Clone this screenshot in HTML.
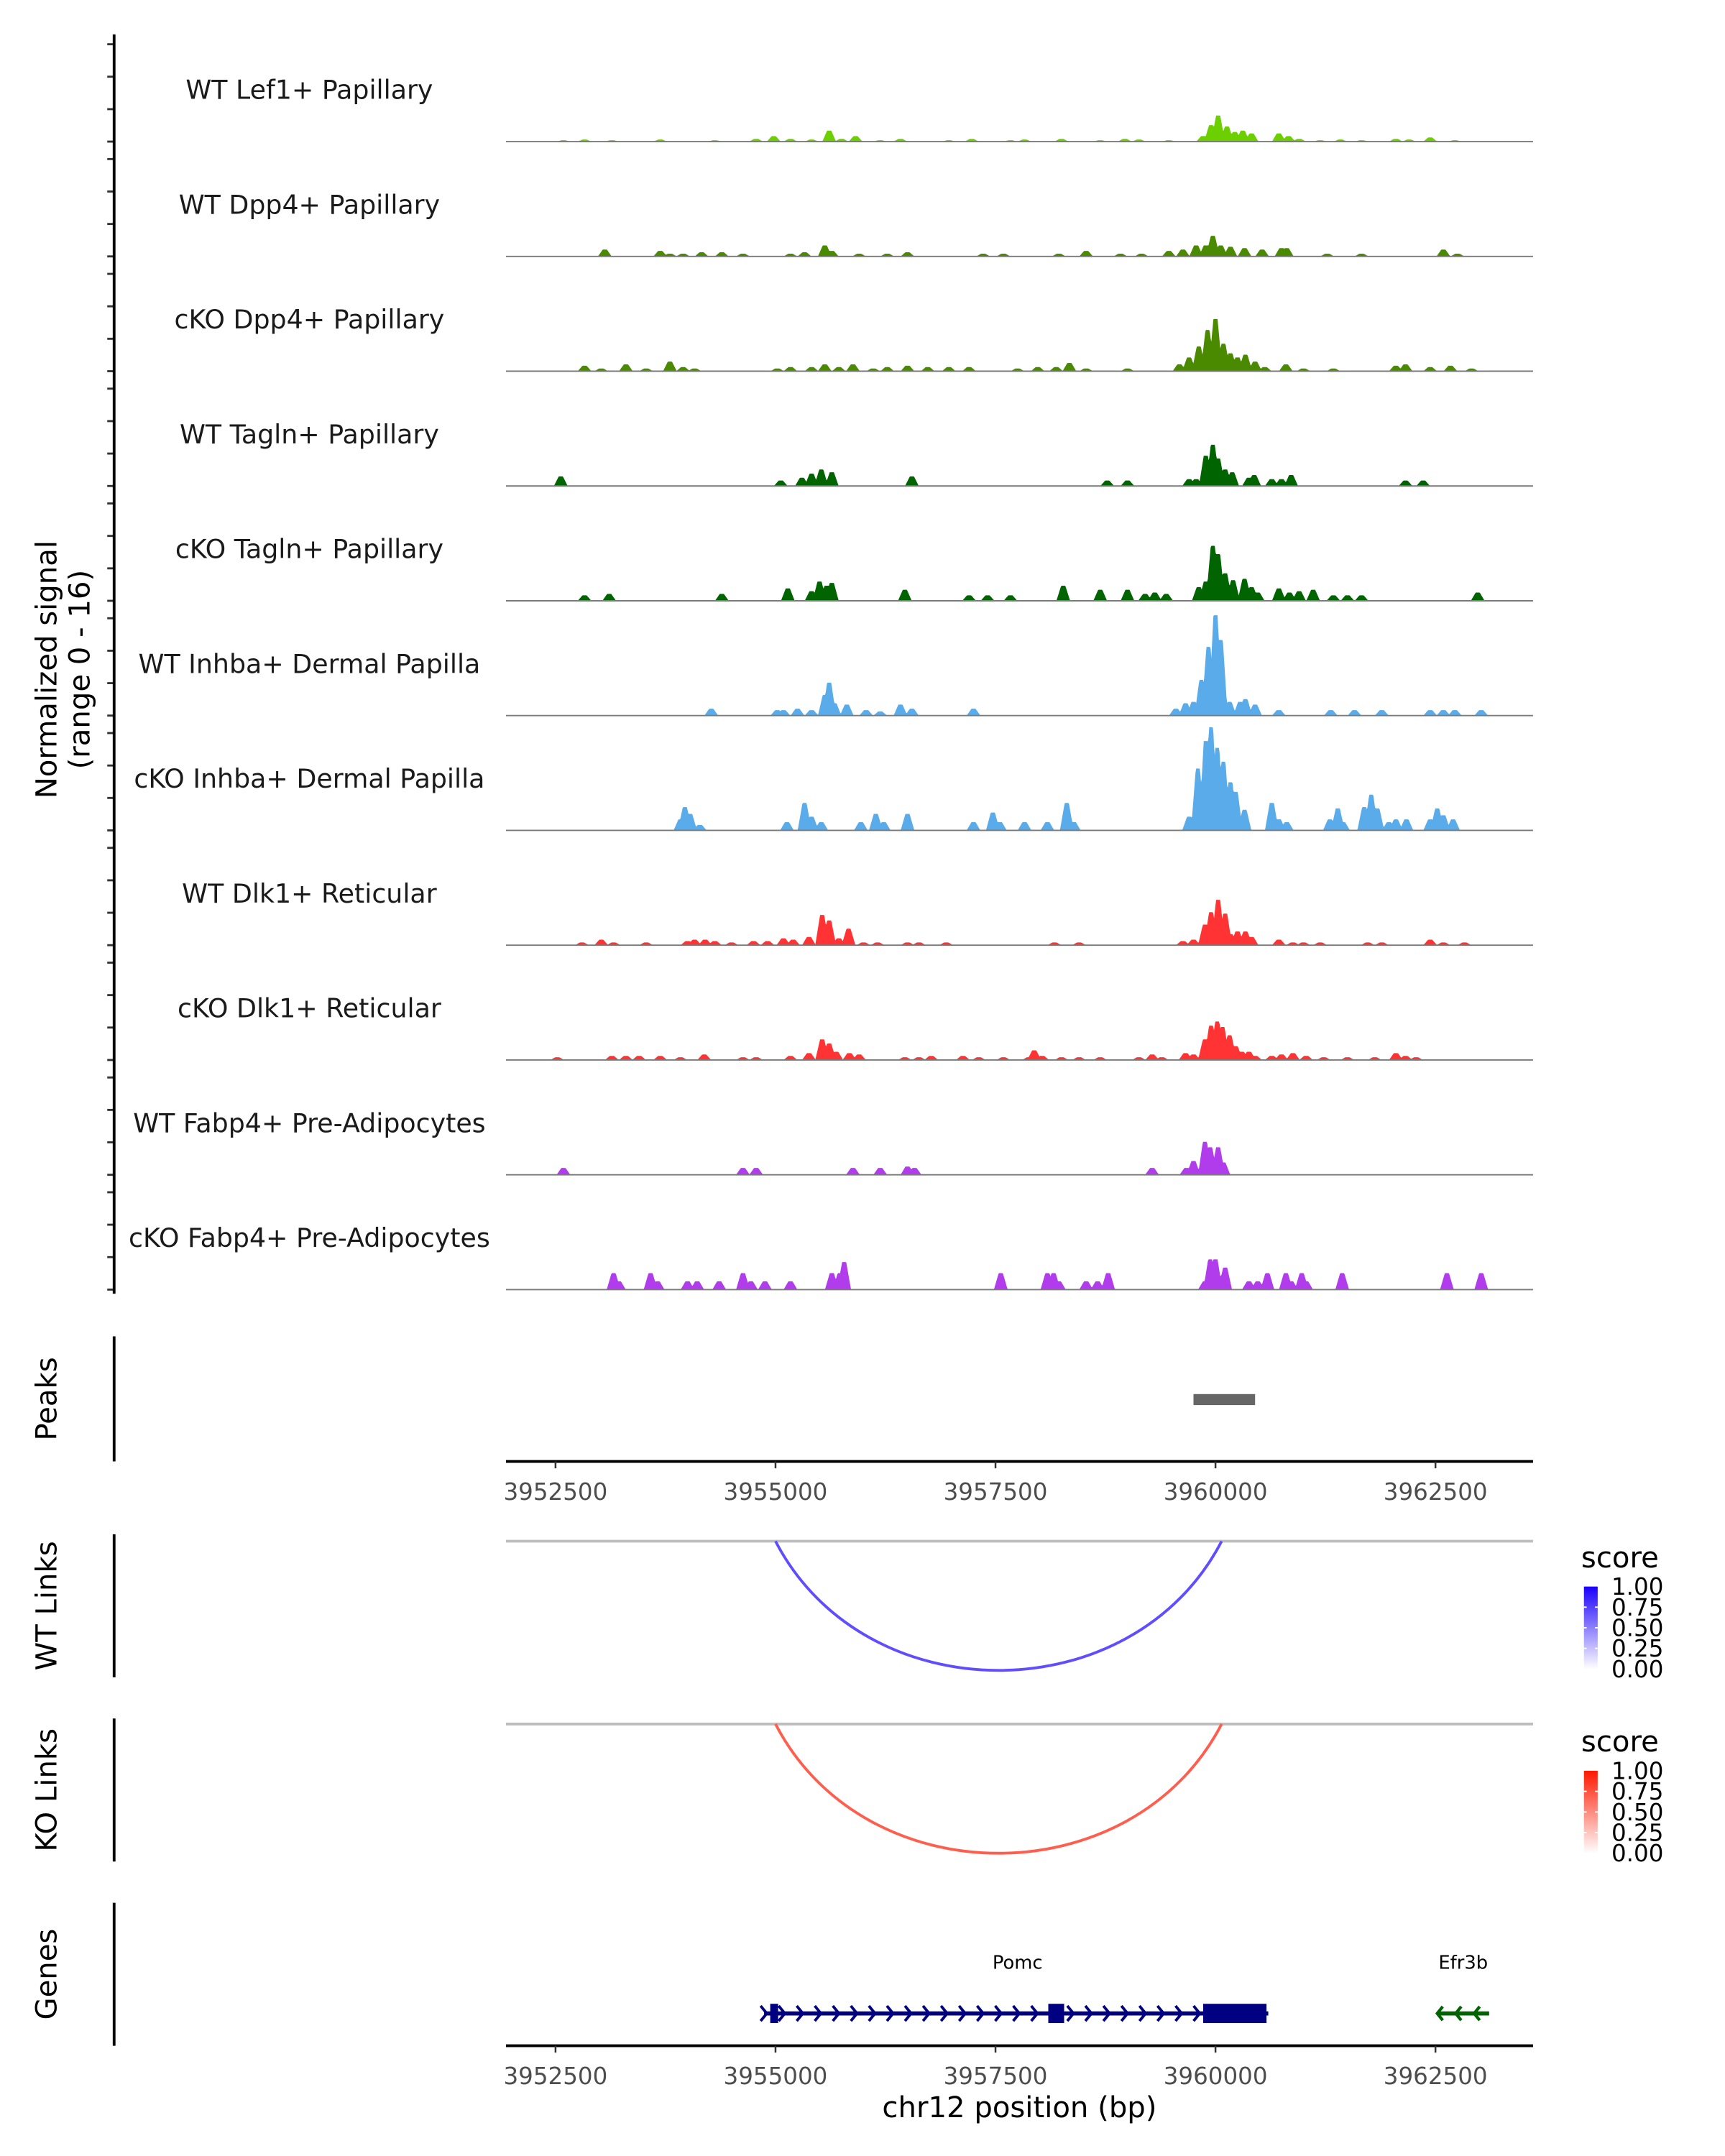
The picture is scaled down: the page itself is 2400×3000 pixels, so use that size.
<!DOCTYPE html>
<html><head><meta charset="utf-8"><title>Pomc locus coverage</title>
<style>html,body{margin:0;padding:0;background:#fff}svg{display:block}text{font-family:"DejaVu Sans","Liberation Sans",sans-serif}</style>
</head><body>
<svg id="chart" xmlns="http://www.w3.org/2000/svg" width="2400" height="3000" viewBox="0 0 1254.6 1568.2" preserveAspectRatio="none">
<g id="tracks"></g>
<g id="frame"></g>
</svg>
<script>
// ---- data ----
const regionStart = 3951937, regionEnd = 3963609;
const axisTicks = [3952500, 3955000, 3957500, 3960000, 3962500];
const trackNames = ["WT Lef1+ Papillary","WT Dpp4+ Papillary","cKO Dpp4+ Papillary","WT Tagln+ Papillary","cKO Tagln+ Papillary","WT Inhba+ Dermal Papilla","cKO Inhba+ Dermal Papilla","WT Dlk1+ Reticular","cKO Dlk1+ Reticular","WT Fabp4+ Pre-Adipocytes","cKO Fabp4+ Pre-Adipocytes"];
const trackColors = ["#6ccf00","#4a8a00","#4a8a00","#006400","#006400","#5aabea","#5aabea","#ff3333","#ff3333","#b03ceb","#b03ceb"];
const sigMax = 16.7;
// [position (kb), signal]
const lef1WT = [[3952.59,.2],[3952.83,.3],[3953.14,.2],[3953.69,.3],[3954.31,.2],[3954.78,.4],[3954.98,.8],[3955.17,.4],[3955.41,.3],[3955.61,1.6],[3955.75,.4],[3955.91,.8],[3956.19,.2],[3956.42,.4],[3956.97,.2],[3957.23,.4],[3957.67,.2],[3957.83,.3],[3958.25,.4],[3958.69,.2],[3958.97,.4],[3959.13,.3],[3959.47,.2],[3959.86,.8],[3959.95,2.4],[3960.03,3.8],[3960.13,2.2],[3960.22,1.4],[3960.31,1.6],[3960.41,1.2],[3960.72,1.2],[3960.83,.8],[3960.95,.4],[3961.19,.2],[3961.42,.3],[3961.66,.2],[3962.05,.4],[3962.2,.3],[3962.44,.6],[3962.72,.2]];
const dpp4WT = [[3953.06,1],[3953.69,.8],[3953.8,.4],[3953.95,.4],[3954.16,.6],[3954.39,.6],[3954.63,.4],[3955.17,.4],[3955.33,.6],[3955.56,1.6],[3955.64,.8],[3955.95,.4],[3956.27,.4],[3956.5,.6],[3957.36,.4],[3957.59,.4],[3958.22,.4],[3958.53,.8],[3958.92,.4],[3959.16,.4],[3959.47,.8],[3959.63,1],[3959.78,1.6],[3959.89,1.6],[3959.97,3],[3960.06,1.6],[3960.17,1.4],[3960.33,1.2],[3960.53,1],[3960.75,1.2],[3960.81,1.2],[3961.27,.4],[3961.66,.4],[3962.59,1],[3962.75,.4]];
const dpp4KO = [[3952.83,.8],[3953.02,.4],[3953.3,1],[3953.53,.4],[3953.8,1.4],[3953.95,.6],[3954.08,.4],[3955.02,.4],[3955.17,.6],[3955.41,.6],[3955.56,1],[3955.72,.6],[3955.88,1],[3956.11,.4],[3956.27,.6],[3956.5,.8],[3956.73,.6],[3956.97,.6],[3957.2,.6],[3957.75,.4],[3957.98,.6],[3958.19,.6],[3958.34,1.2],[3958.53,.4],[3959.0,.4],[3959.59,1],[3959.7,2],[3959.81,3.6],[3959.91,6],[3960.0,7.6],[3960.09,4],[3960.17,2.6],[3960.25,2],[3960.34,2.4],[3960.45,1.4],[3960.56,.6],[3960.8,1],[3961.0,.4],[3961.34,.4],[3962.05,.8],[3962.16,1],[3962.44,.6],[3962.67,.8],[3962.91,.4]];
const taglnWT = [[3952.56,1.4],[3955.06,.8],[3955.3,1.2],[3955.41,1.8],[3955.52,2.4],[3955.64,2],[3956.55,1.4],[3958.77,.8],[3959.0,.8],[3959.7,1],[3959.78,1],[3959.89,4.4],[3959.97,6],[3960.03,4],[3960.11,2.4],[3960.19,2],[3960.38,1.2],[3960.44,1.6],[3960.64,1],[3960.75,1],[3960.86,1.6],[3962.16,.8],[3962.36,.8]];
const taglnKO = [[3952.83,.8],[3953.11,1],[3954.39,1],[3955.14,1.8],[3955.41,1.4],[3955.5,2.8],[3955.58,2.2],[3955.64,2.6],[3956.47,1.6],[3957.2,.8],[3957.41,.8],[3957.67,.8],[3958.27,2.2],[3958.69,1.6],[3959.0,1.6],[3959.2,1],[3959.31,1.2],[3959.44,1],[3959.81,2],[3959.89,2.8],[3959.97,8],[3960.03,6.8],[3960.11,4],[3960.2,3],[3960.33,3.2],[3960.41,2],[3960.48,1.2],[3960.72,1.8],[3960.84,1.2],[3960.95,1.4],[3961.11,1.6],[3961.34,.8],[3961.5,.8],[3961.66,.8],[3962.98,1.2]];
const inhbaWT = [[3954.27,1],[3955.02,.8],[3955.09,.8],[3955.25,1],[3955.41,.8],[3955.56,3],[3955.61,4.8],[3955.67,1.8],[3955.81,1.6],[3956.03,.8],[3956.19,.6],[3956.42,1.6],[3956.55,1],[3957.25,1],[3959.55,1],[3959.66,1.8],[3959.75,2],[3959.84,5.2],[3959.92,10],[3960.0,14.6],[3960.06,11],[3960.16,2],[3960.28,2],[3960.34,2.4],[3960.45,1.6],[3960.72,.8],[3961.31,.8],[3961.58,.8],[3961.89,.8],[3962.44,.8],[3962.59,.8],[3962.72,.8],[3963.02,.8]];
const inhbaKO = [[3953.92,1.6],[3953.97,3.4],[3954.03,2.4],[3954.14,.8],[3955.13,1.2],[3955.33,4],[3955.41,2],[3955.52,1.2],[3955.97,1.2],[3956.14,2.4],[3956.23,1.2],[3956.5,2.4],[3957.25,1.2],[3957.47,2.6],[3957.55,1.2],[3957.83,1.2],[3958.09,1.2],[3958.31,4],[3958.39,1.2],[3959.7,2],[3959.8,9],[3959.89,13],[3959.95,15],[3960.02,12],[3960.09,10],[3960.17,7],[3960.23,5.6],[3960.33,3],[3960.64,4],[3960.72,1.6],[3960.81,1.2],[3961.3,1.6],[3961.39,3.2],[3961.45,1.2],[3961.69,3.4],[3961.77,5.2],[3961.84,3.2],[3961.97,1.2],[3962.05,1.6],[3962.17,1.6],[3962.44,1.6],[3962.52,3.2],[3962.59,2.2],[3962.7,1.6]];
const dlk1WT = [[3952.8,.4],[3953.02,.8],[3953.16,.4],[3953.53,.4],[3954.0,.6],[3954.08,.8],[3954.2,.8],[3954.31,.6],[3954.5,.4],[3954.75,.6],[3954.91,.6],[3955.09,1],[3955.2,.8],[3955.38,1.2],[3955.53,4.4],[3955.61,3.6],[3955.72,1],[3955.83,2.4],[3956.0,.4],[3956.16,.4],[3956.5,.4],[3956.63,.4],[3956.94,.4],[3958.17,.4],[3958.45,.4],[3959.63,.6],[3959.75,.8],[3959.88,3],[3959.95,4.8],[3960.03,6.6],[3960.11,4.6],[3960.17,1.6],[3960.25,2],[3960.34,2],[3960.41,1.2],[3960.72,.8],[3960.88,.4],[3961.0,.4],[3961.19,.4],[3961.73,.4],[3961.89,.4],[3962.44,.8],[3962.59,.4],[3962.83,.4]];
const dlk1KO = [[3952.52,.4],[3953.14,.6],[3953.3,.6],[3953.45,.6],[3953.69,.6],[3953.92,.4],[3954.19,.8],[3954.63,.4],[3954.78,.4],[3955.17,.6],[3955.38,1],[3955.53,3],[3955.61,2.4],[3955.69,1.2],[3955.84,1],[3955.95,.8],[3956.47,.4],[3956.63,.4],[3956.77,.6],[3957.13,.6],[3957.31,.4],[3957.59,.4],[3957.88,.4],[3957.94,1.4],[3958.03,.6],[3958.25,.4],[3958.45,.4],[3958.69,.4],[3959.13,.4],[3959.28,.8],[3959.39,.4],[3959.66,1],[3959.75,.8],[3959.88,3],[3959.95,5],[3960.02,5.6],[3960.08,4.8],[3960.16,3.6],[3960.23,2],[3960.3,1.2],[3960.38,1.2],[3960.45,.6],[3960.64,.6],[3960.75,.8],[3960.88,1],[3961.03,.6],[3961.23,.4],[3961.5,.4],[3961.81,.4],[3962.05,1],[3962.16,.6],[3962.28,.4]];
const fabp4WT = [[3952.59,1],[3954.63,1],[3954.78,1],[3955.88,1],[3956.19,1],[3956.5,1.2],[3956.58,1],[3959.28,1],[3959.67,1],[3959.75,2],[3959.88,4.8],[3959.94,4],[3960.03,4],[3960.09,1.8]];
const fabp4KO = [[3953.16,2.4],[3953.22,1.2],[3953.58,2.4],[3953.66,1.2],[3954.0,1.2],[3954.11,1.2],[3954.36,1.2],[3954.63,2.4],[3954.72,1.2],[3954.88,1.2],[3955.17,1.2],[3955.64,2.4],[3955.73,2.4],[3955.78,4],[3957.56,2.4],[3958.09,2.4],[3958.16,2.4],[3958.22,1.2],[3958.53,1.2],[3958.66,1.2],[3958.78,2.4],[3959.88,1.2],[3959.94,4.4],[3960.0,4.4],[3960.05,2],[3960.11,3.2],[3960.38,1.2],[3960.48,1.2],[3960.59,2.4],[3960.8,2.4],[3960.86,1.2],[3960.98,2.4],[3961.03,1.2],[3961.44,2.4],[3962.63,2.4],[3963.02,2.4]];
const trackData = [lef1WT,dpp4WT,dpp4KO,taglnWT,taglnKO,inhbaWT,inhbaKO,dlk1WT,dlk1KO,fabp4WT,fabp4KO];
const peakStarts = [3959750]; const peakEnds = [3960450];
const wtLinkStart = [3955000], wtLinkEnd = [3960070], wtLinkScore = [0.7];
const koLinkStart = [3955000], koLinkEnd = [3960070], koLinkScore = [0.7];
const legendTicks = ["1.00","0.75","0.50","0.25","0.00"];
const pomcExonStart = [3954940, 3958100, 3959860];
const pomcExonEnd = [3955030, 3958280, 3960580];
const pomcSpan = [3954870, 3960600];
const efr3bSpan = [3962520, 3963110];

// ---- scales ----
const NS = "http://www.w3.org/2000/svg";
const X0 = 368, X1 = 1115;
const xs = bp => X0 + (bp - regionStart) / (regionEnd - regionStart) * (X1 - X0);
const trackH = 83.5, firstBase = 103;
const ys = (i, v) => firstBase + i * trackH - v / sigMax * trackH;
const tracksG = document.getElementById('tracks');
const frameG = document.getElementById('frame');
function mk(tag, attrs, parent, txt) {
  const e = document.createElementNS(NS, tag);
  for (const k in attrs) e.setAttribute(k, attrs[k]);
  if (txt !== undefined) e.textContent = txt;
  parent.appendChild(e);
  return e;
}

// ---- coverage tracks ----
trackData.forEach((peaks, i) => {
  const base = firstBase + i * trackH;
  const prof = [];
  for (let x = X0; x <= X1; x += 0.5) {
    let v = 0;
    for (const p of peaks) {
      const d = Math.abs(x - xs(p[0] * 1000));
      let f = d <= 1.5 ? 1 : (d >= 5 ? 0 : 1 - (d - 1.5) / 3.5);
      v = Math.max(v, p[1] * f);
    }
    prof.push([x, v]);
  }
  let d = `M${X0},${base}`;
  prof.forEach(([x, v]) => { d += ` L${x.toFixed(1)},${ys(i, v).toFixed(2)}`; });
  d += ` L${X1},${base} Z`;
  const area = mk('path', {d, fill: trackColors[i], stroke: 'none'}, tracksG);
  
  
  const bl = mk('line', {x1: X0, x2: X1, y1: base, y2: base, stroke: '#7a7a7a', 'stroke-width': 1}, tracksG);
  
  
  const lab = mk('text', {x: 225, y: base - 31, 'text-anchor': 'middle', 'font-size': 19, fill: '#1a1a1a'}, tracksG, trackNames[i]);
  
  
  for (let k = 0; k < 4; k++) {
    const ty = base - k * 23.6;
    const t = mk('line', {x1: 78, x2: 83, y1: ty, y2: ty, stroke: '#333', 'stroke-width': 1.5}, frameG);
    
    
  }
});
let e;
e = mk('line', {x1: 83, x2: 83, y1: 25, y2: 941, stroke: '#000', 'stroke-width': 2}, frameG);
 
e = mk('text', {transform: 'translate(41,487) rotate(-90)', 'text-anchor': 'middle', 'font-size': 21, fill: '#000'}, frameG, 'Normalized signal');
 
e = mk('text', {transform: 'translate(65,487) rotate(-90)', 'text-anchor': 'middle', 'font-size': 21, fill: '#000'}, frameG, '(range 0 - 16)');
 

// ---- side labels ----
function sideLabel(txt, y0, y1, name) {
  const l = mk('line', {x1: 83, x2: 83, y1: y0, y2: y1, stroke: '#000', 'stroke-width': 2}, frameG);
  
  
  const t = mk('text', {transform: `translate(41,${(y0 + y1) / 2}) rotate(-90)`, 'text-anchor': 'middle', 'font-size': 21, fill: '#000'}, frameG, txt);
  
  
}
sideLabel('Peaks', 972, 1063, 'peaks');
sideLabel('WT Links', 1116, 1220, 'wt-links');
sideLabel('KO Links', 1250, 1354, 'ko-links');
sideLabel('Genes', 1384, 1488, 'genes');

// ---- peaks ----
peakStarts.forEach((s, i) => {
  const r = mk('rect', {x: xs(s), y: 1014, width: xs(peakEnds[i]) - xs(s), height: 8, fill: '#666'}, frameG);
  
  
});

// ---- x axes ----
function xAxis(y, withTitle) {
  const l = mk('line', {x1: X0, x2: X1, y1: y, y2: y, stroke: '#000', 'stroke-width': 2}, frameG);
  
  
  axisTicks.forEach(t => {
    const tk = mk('line', {x1: xs(t), x2: xs(t), y1: y, y2: y + 5, stroke: '#333', 'stroke-width': 1.3}, frameG);
    
    
    const tl = mk('text', {x: xs(t), y: y + 28, 'text-anchor': 'middle', 'font-size': 17, fill: '#4d4d4d'}, frameG, String(t));
    
    
  });
  if (withTitle) {
    const tt = mk('text', {x: (X0 + X1) / 2, y: y + 52, 'text-anchor': 'middle', 'font-size': 21, fill: '#000'}, frameG, 'chr12 position (bp)');
    
    
  }
}
xAxis(1063, false);
xAxis(1488, true);

// ---- links ----
function lerpColor(c, s) {
  const r = Math.round(255 + (c[0] - 255) * s), g = Math.round(255 + (c[1] - 255) * s), b = Math.round(255 + (c[2] - 255) * s);
  return `rgb(${r},${g},${b})`;
}
function linksPanel(base, starts, ends, scores, hi, gid, legY, prefix) {
  const bl = mk('line', {x1: X0, x2: X1, y1: base, y2: base, stroke: '#bdbdbd', 'stroke-width': 2}, frameG);
  
  
  starts.forEach((s, i) => {
    const a = xs(s), b = xs(ends[i]);
    const depth = 94;
    const p = mk('path', {d: `M${a},${base} C${a + (b - a) * 0.2},${base + depth * 1.333} ${b - (b - a) * 0.2},${base + depth * 1.333} ${b},${base}`, fill: 'none', stroke: lerpColor(hi, scores[i]), 'stroke-width': 2}, frameG);
    
    
  });
  const defs = mk('defs', {}, frameG);
  const lg = mk('linearGradient', {id: gid, x1: 0, y1: 1, x2: 0, y2: 0}, defs);
  mk('stop', {offset: 0, 'stop-color': '#fff'}, lg);
  mk('stop', {offset: 1, 'stop-color': `rgb(${hi.join(',')})`}, lg);
  const st = mk('text', {x: 1150, y: legY, 'font-size': 21, fill: '#000'}, frameG, 'score');
  
  
  const top = legY + 14, h = 60;
  const bar = mk('rect', {x: 1152, y: top, width: 10, height: h, fill: `url(#${gid})`}, frameG);
  
  
  legendTicks.forEach((t, k) => {
    const yy = top + k * (h / 4);
    const tl = mk('text', {x: 1172, y: yy + 6, 'font-size': 17, fill: '#000'}, frameG, t);
    
    
    if (k > 0 && k < 4) {
      mk('line', {x1: 1152, x2: 1154, y1: yy, y2: yy, stroke: '#fff', 'stroke-width': 1}, frameG);
      mk('line', {x1: 1160, x2: 1162, y1: yy, y2: yy, stroke: '#fff', 'stroke-width': 1}, frameG);
    }
  });
}
linksPanel(1121, wtLinkStart, wtLinkEnd, wtLinkScore, [26, 0, 255], 'gwt', 1140, 'wt');
linksPanel(1254, koLinkStart, koLinkEnd, koLinkScore, [255, 24, 0], 'gko', 1274, 'ko');

// ---- genes ----
const gy = 1464.5;
e = mk('line', {x1: xs(pomcSpan[0]), x2: xs(pomcSpan[1]), y1: gy, y2: gy, stroke: '#000080', 'stroke-width': 3}, frameG);
 
for (let bp = pomcSpan[0]; bp < pomcSpan[1] - 150; bp += 205) {
  const x = xs(bp);
  const c = mk('path', {d: `M${x - 2.5},${gy - 5.5} L${x + 2},${gy} L${x - 2.5},${gy + 5.5}`, fill: 'none', stroke: '#000080', 'stroke-width': 2}, frameG);
  
  
}
pomcExonStart.forEach((s, i) => {
  const r = mk('rect', {x: xs(s), y: gy - 7, width: xs(pomcExonEnd[i]) - xs(s), height: 14, fill: '#000080'}, frameG);
  
  
});
e = mk('text', {x: xs((pomcSpan[0] + pomcSpan[1]) / 2) + 1, y: 1432, 'text-anchor': 'middle', 'font-size': 13.5, fill: '#000'}, frameG, 'Pomc');
 
e = mk('line', {x1: xs(efr3bSpan[0]), x2: xs(efr3bSpan[1]), y1: gy, y2: gy, stroke: '#006400', 'stroke-width': 3}, frameG);
 
for (let bp = efr3bSpan[0]; bp < efr3bSpan[1] - 100; bp += 210) {
  const x = xs(bp);
  const c = mk('path', {d: `M${x + 4},${gy - 5} L${x},${gy} L${x + 4},${gy + 5}`, fill: 'none', stroke: '#006400', 'stroke-width': 2.2}, frameG);
  
  
}
e = mk('text', {x: xs((efr3bSpan[0] + efr3bSpan[1]) / 2), y: 1432, 'text-anchor': 'middle', 'font-size': 13.5, fill: '#000'}, frameG, 'Efr3b');
 
</script>
</body></html>
